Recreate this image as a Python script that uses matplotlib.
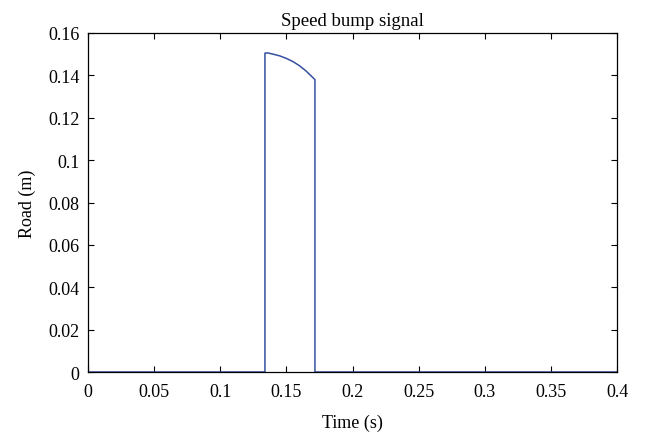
import matplotlib
matplotlib.use("Agg")
import matplotlib.pyplot as plt

plt.rcParams["font.family"] = ["Liberation Serif", "DejaVu Serif"]

# road profile
time_s = [0.0, 0.1338, 0.1338, 0.136, 0.140, 0.145, 0.150, 0.155, 0.160, 0.165, 0.1716, 0.1716, 0.4]
road_m = [0.0, 0.0, 0.1505, 0.1506, 0.1500, 0.1492, 0.1480, 0.1465, 0.1445, 0.1420, 0.1380, 0.0, 0.0]

xticks = [0, 0.05, 0.1, 0.15, 0.2, 0.25, 0.3, 0.35, 0.4]
xlabels = ["0", "0.05", "0.1", "0.15", "0.2", "0.25", "0.3", "0.35", "0.4"]
yticks = [0, 0.02, 0.04, 0.06, 0.08, 0.1, 0.12, 0.14, 0.16]
ylabels = ["0", "0.02", "0.04", "0.06", "0.08", "0.1", "0.12", "0.14", "0.16"]

fig = plt.figure(figsize=(6.5, 4.39), dpi=100)
ax = fig.add_axes([88 / 650, 1 - 373 / 439, 529 / 650, 339 / 439])

ax.plot(time_s, road_m, color="#3450a0", linewidth=1.1)
ax.set_xlim(0, 0.4)
ax.set_ylim(0, 0.16)
ax.set_xticks(xticks, xlabels)
ax.set_yticks(yticks, ylabels)
ax.tick_params(direction="in", top=True, right=True, labelsize=13, length=4, width=0.8)
ax.tick_params(axis="x", pad=8)
ax.tick_params(axis="y", pad=6)
for s in ax.spines.values():
    s.set_linewidth(0.9)

ax.set_xlabel("Time (s)", fontsize=13, labelpad=10)
ax.set_ylabel("Road (m)", fontsize=13, labelpad=9)
ax.set_title("Speed bump signal", fontsize=13.5, pad=6)

fig.savefig("out.png", dpi=100)
